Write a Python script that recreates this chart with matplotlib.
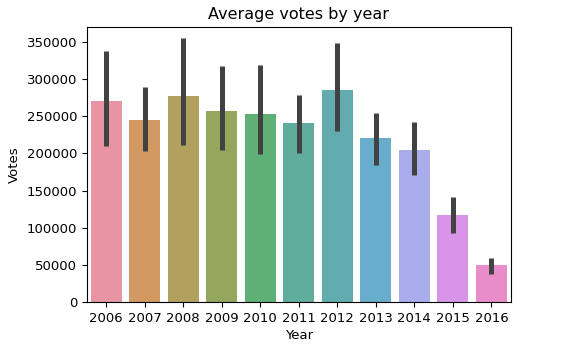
import matplotlib
matplotlib.use("Agg")
import matplotlib.pyplot as plt
import seaborn as sns
import numpy as np

years = ["2006", "2007", "2008", "2009", "2010", "2011", "2012", "2013", "2014", "2015", "2016"]
avg_votes = [270000, 244500, 277000, 256500, 253000, 241500, 285500, 220500, 205000, 116500, 49300]
ci_low = [209800, 203000, 211600, 204800, 199400, 200800, 230200, 184500, 170500, 93200, 38000]
ci_high = [337800, 289000, 355800, 317800, 319700, 278500, 348600, 254600, 242400, 141500, 59200]

colors = [sns.desaturate(c, 0.75) for c in sns.color_palette("husl", len(years))]

fig = plt.figure(figsize=(5.79, 3.62), dpi=100)
ax = fig.add_axes([0.150, 0.166, 0.732, 0.759])

x = np.arange(len(years))
ax.bar(x, avg_votes, width=0.8, color=colors, alpha=0.85)
ax.vlines(x, ci_low, ci_high, color=".26", lw=3.6)

ax.set_xticks(x)
ax.set_xticklabels(years)
ax.set_xlim(-0.5, len(years) - 0.5)
ax.set_ylim(0, 370000)
ax.tick_params(labelsize=9.5)
ax.set_xlabel("Year", fontsize=9.5, labelpad=3)
ax.set_ylabel("Votes", fontsize=9.5)
ax.set_title("Average votes by year", fontsize=11.5)

fig.savefig("out.png", dpi=100)
